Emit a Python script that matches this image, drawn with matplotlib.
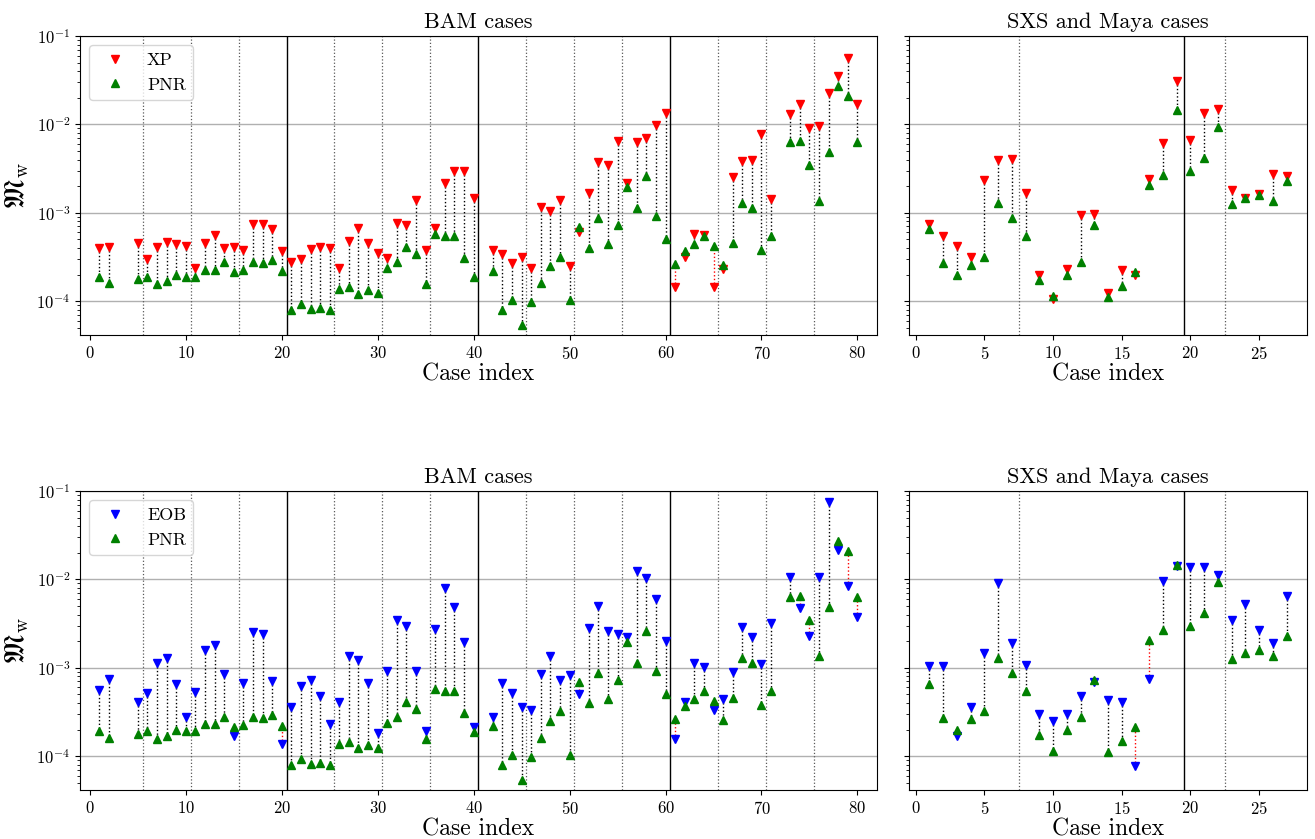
import numpy as np
import matplotlib
matplotlib.use('Agg')
import matplotlib.pyplot as plt

plt.rcParams['font.family'] = 'cmr10'
plt.rcParams['mathtext.fontset'] = 'cm'
plt.rcParams['axes.formatter.use_mathtext'] = True

# BAM cases (3, 4, 41, 72 are missing)
bam_idx = [1, 2, 5, 6, 7, 8, 9, 10, 11, 12, 13, 14, 15, 16, 17, 18, 19, 20,
           21, 22, 23, 24, 25, 26, 27, 28, 29, 30, 31, 32, 33, 34, 35, 36, 37, 38, 39, 40,
           42, 43, 44, 45, 46, 47, 48, 49, 50, 51, 52, 53, 54, 55, 56, 57, 58, 59, 60,
           61, 62, 63, 64, 65, 66, 67, 68, 69, 70, 71,
           73, 74, 75, 76, 77, 78, 79, 80]

xp_bam = [4.0e-4, 4.1e-4, 4.6e-4, 3.0e-4, 4.1e-4, 4.7e-4, 4.4e-4, 4.2e-4, 2.4e-4, 4.5e-4,
          5.6e-4, 4.0e-4, 4.1e-4, 3.8e-4, 7.4e-4, 7.4e-4, 6.6e-4, 3.7e-4,
          2.8e-4, 3.0e-4, 3.9e-4, 4.1e-4, 4.0e-4, 2.4e-4, 4.8e-4, 6.8e-4, 4.6e-4, 3.5e-4,
          3.05e-4, 7.6e-4, 7.2e-4, 1.4e-3, 3.8e-4, 6.8e-4, 2.2e-3, 3.0e-3, 2.95e-3, 1.47e-3,
          3.8e-4, 3.4e-4, 2.7e-4, 3.2e-4, 2.4e-4, 1.16e-3, 1.06e-3, 1.39e-3, 2.5e-4,
          6.1e-4, 1.67e-3, 3.8e-3, 3.5e-3, 6.5e-3, 2.2e-3, 6.3e-3, 7.0e-3, 9.8e-3, 1.36e-2,
          1.46e-4, 3.2e-4, 5.8e-4, 5.6e-4, 1.44e-4, 2.3e-4, 2.55e-3, 3.9e-3, 3.95e-3, 7.7e-3,
          1.42e-3,
          1.32e-2, 1.71e-2, 9.2e-3, 9.5e-3, 2.26e-2, 3.5e-2, 5.7e-2, 1.7e-2]

pnr_bam = [1.9e-4, 1.6e-4, 1.8e-4, 1.9e-4, 1.58e-4, 1.68e-4, 2.0e-4, 1.9e-4, 1.9e-4, 2.28e-4,
           2.28e-4, 2.8e-4, 2.13e-4, 2.24e-4, 2.8e-4, 2.67e-4, 2.94e-4, 2.2e-4,
           8.0e-5, 9.2e-5, 8.1e-5, 8.3e-5, 7.9e-5, 1.38e-4, 1.45e-4, 1.22e-4, 1.33e-4, 1.24e-4,
           2.4e-4, 2.8e-4, 4.1e-4, 3.4e-4, 1.58e-4, 5.7e-4, 5.4e-4, 5.4e-4, 3.1e-4, 1.87e-4,
           2.2e-4, 7.9e-5, 1.04e-4, 5.4e-5, 9.8e-5, 1.6e-4, 2.5e-4, 3.2e-4, 1.04e-4,
           6.9e-4, 4.0e-4, 8.7e-4, 4.4e-4, 7.2e-4, 1.94e-3, 1.12e-3, 2.6e-3, 9.1e-4, 5.1e-4,
           2.65e-4, 3.7e-4, 4.4e-4, 5.5e-4, 4.2e-4, 2.56e-4, 4.5e-4, 1.28e-3, 1.13e-3, 3.8e-4,
           5.5e-4,
           6.4e-3, 6.5e-3, 3.5e-3, 1.37e-3, 4.9e-3, 2.7e-2, 2.1e-2, 6.4e-3]

eob_bam = [5.6e-4, 7.4e-4, 4.1e-4, 5.2e-4, 1.12e-3, 1.29e-3, 6.5e-4, 2.8e-4, 5.3e-4, 1.59e-3,
           1.81e-3, 8.5e-4, 1.68e-4, 6.7e-4, 2.57e-3, 2.4e-3, 7.0e-4, 1.36e-4,
           3.6e-4, 6.2e-4, 7.2e-4, 4.8e-4, 2.28e-4, 4.1e-4, 1.35e-3, 1.23e-3, 6.8e-4, 1.85e-4,
           9.2e-4, 3.46e-3, 2.98e-3, 9.3e-4, 1.94e-4, 2.75e-3, 8.0e-3, 4.9e-3, 1.98e-3, 2.15e-4,
           2.8e-4, 6.8e-4, 5.2e-4, 3.6e-4, 3.3e-4, 8.6e-4, 1.37e-3, 7.3e-4, 8.3e-4,
           5.1e-4, 2.85e-3, 5.0e-3, 2.6e-3, 2.44e-3, 2.23e-3, 1.23e-2, 1.05e-2, 6.0e-3, 2.0e-3,
           1.56e-4, 4.1e-4, 1.13e-3, 1.03e-3, 3.3e-4, 4.4e-4, 8.9e-4, 2.93e-3, 2.2e-3, 1.09e-3,
           3.2e-3,
           1.06e-2, 4.8e-3, 2.27e-3, 1.06e-2, 7.6e-2, 2.17e-2, 8.4e-3, 3.8e-3]

# SXS and Maya cases
sxs_idx = [1, 2, 3, 4, 5, 6, 7, 8, 9, 10, 11, 12, 13, 14, 15, 16, 17, 18, 19, 20,
           21, 22, 23, 24, 25, 26, 27]

xp_sxs = [7.4e-4, 5.4e-4, 4.2e-4, 3.2e-4, 2.38e-3, 4.0e-3, 4.06e-3, 1.66e-3, 2.0e-4, 1.06e-4,
          2.34e-4, 9.5e-4, 9.7e-4, 1.24e-4, 2.26e-4, 1.97e-4, 2.4e-3, 6.1e-3, 3.07e-2, 6.7e-3,
          1.34e-2, 1.5e-2, 1.83e-3, 1.46e-3, 1.62e-3, 2.75e-3, 2.6e-3]

pnr_sxs = [6.5e-4, 2.67e-4, 2.0e-4, 2.6e-4, 3.2e-4, 1.28e-3, 8.8e-4, 5.5e-4, 1.74e-4, 1.15e-4,
           2.0e-4, 2.77e-4, 7.2e-4, 1.12e-4, 1.49e-4, 2.13e-4, 2.05e-3, 2.7e-3, 1.46e-2, 2.96e-3,
           4.2e-3, 9.4e-3, 1.27e-3, 1.46e-3, 1.59e-3, 1.37e-3, 2.3e-3]

eob_sxs = [1.05e-3, 1.05e-3, 1.7e-4, 3.6e-4, 1.48e-3, 9.1e-3, 1.93e-3, 1.07e-3, 3.0e-4, 2.5e-4,
           3.0e-4, 4.8e-4, 6.9e-4, 4.3e-4, 4.1e-4, 7.7e-5, 7.5e-4, 9.7e-3, 1.41e-2, 1.38e-2,
           1.38e-2, 1.13e-2, 3.5e-3, 5.3e-3, 2.7e-3, 1.9e-3, 6.5e-3]

bam_solid = [20.5, 40.5, 60.5]
bam_dotted = [5.5, 10.5, 15.5, 25.5, 30.5, 35.5, 45.5, 50.5, 55.5, 65.5, 70.5, 75.5]
sxs_solid = [19.5]
sxs_dotted = [7.5, 22.5]


def draw_panel(ax, idx, model, pnr, col, label, solid, dotted, legend=False):
    for x in dotted:
        ax.axvline(x, color='0.35', ls=':', lw=0.9, zorder=1)
    for x in solid:
        ax.axvline(x, color='k', lw=1.0, zorder=1)
    for i, m, p in zip(idx, model, pnr):
        c = 'k' if m >= p else 'r'
        ax.plot([i, i], [m, p], ls=':', color=c, lw=1.0, zorder=2)
    ax.plot(idx, model, 'v', color=col, ms=6, ls='none', label=label, zorder=3)
    ax.plot(idx, pnr, '^', color='g', ms=6, ls='none', label='PNR', zorder=3)
    ax.set_yscale('log')
    ax.grid(axis='y', which='major', color='#b0b0b0', lw=1.0)
    ax.set_axisbelow(True)
    ax.set_xlabel('Case index', fontsize=17, labelpad=1)
    ax.tick_params(labelsize=12)
    if legend:
        ax.legend(loc='upper left', fontsize=13)


fig = plt.figure(figsize=(13.15, 8.39), dpi=100)
gs = fig.add_gridspec(2, 2, width_ratios=[2, 1], left=0.061, right=0.994,
                      top=0.957, bottom=0.058, wspace=0.054, hspace=0.52)

rows = [(xp_bam, xp_sxs, 'r', 'XP'), (eob_bam, eob_sxs, 'b', 'EOB')]
for r, (mb, ms_, col, lab) in enumerate(rows):
    ax1 = fig.add_subplot(gs[r, 0])
    ax2 = fig.add_subplot(gs[r, 1], sharey=ax1)
    draw_panel(ax1, bam_idx, mb, pnr_bam, col, lab, bam_solid, bam_dotted, legend=True)
    draw_panel(ax2, sxs_idx, ms_, pnr_sxs, col, lab, sxs_solid, sxs_dotted)
    ax1.set_xlim(-1, 82)
    ax2.set_xlim(-0.5, 28.5)
    ax1.set_ylim(4.1e-5, 1e-1)
    ax1.set_xticks([0, 10, 20, 30, 40, 50, 60, 70, 80])
    ax2.set_xticks([0, 5, 10, 15, 20, 25])
    ax2.tick_params(labelleft=False)
    ax1.set_title('BAM cases', fontsize=16)
    ax2.set_title('SXS and Maya cases', fontsize=16)
    ax1.set_ylabel(r'$\mathfrak{M}_{\mathrm{w}}$', fontsize=20)

plt.savefig('out.png', dpi=100)
